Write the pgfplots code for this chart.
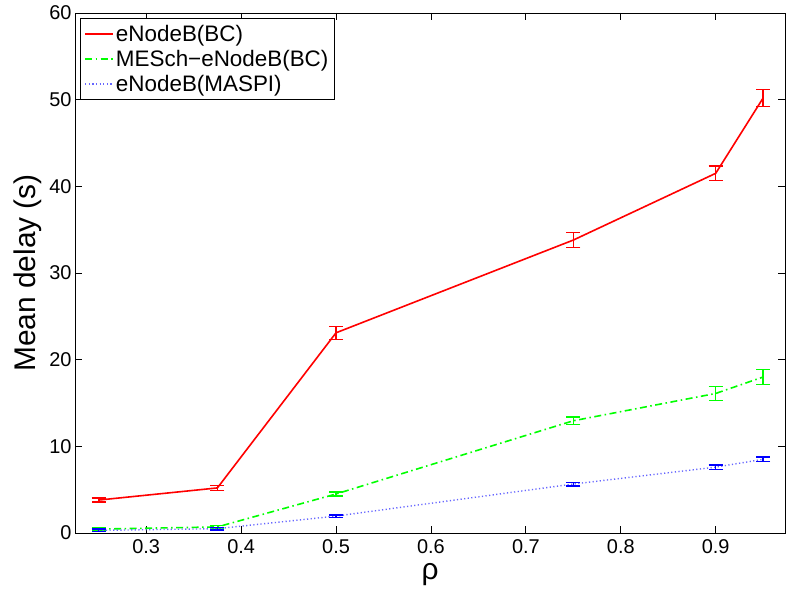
\documentclass[border=0pt]{standalone}
\usepackage{fontspec}
\setmainfont{Liberation Sans}
\usepackage{pgfplots}
\pgfplotsset{compat=1.18}

\definecolor{mred}{rgb}{1,0,0}
\definecolor{mgreen}{rgb}{0,1,0}
\definecolor{mblue}{rgb}{0,0,1}

\begin{document}
\begin{tikzpicture}
\begin{axis}[
    scale only axis,
    width=710bp, height=520bp,
    xmin=0.225, xmax=0.973,
    ymin=0, ymax=60,
    xtick={0.3,0.4,0.5,0.6,0.7,0.8,0.9},
    ytick={0,10,20,30,40,50,60},
    xticklabels={0.3,0.4,0.5,0.6,0.7,0.8,0.9},
    tick align=inside,
    major tick length=7bp,
    tick style={black, line width=0.8bp},
    axis line style={line width=0.8bp},
    /pgf/number format/assume math mode=true,
    ticklabel style={font=\fontsize{20}{24}\selectfont},
    xticklabel style={yshift=-3bp},
    xlabel={ρ},
    ylabel={Mean delay (s)},
    xlabel style={at={(axis description cs:0.5,-0.058)}, anchor=north, inner sep=0pt,
                  font=\fontsize{30}{34}\selectfont},
    ylabel style={at={(axis description cs:-0.0563,0.5)}, anchor=base, inner sep=0pt,
                  font=\fontsize{30}{34}\selectfont},
    legend cell align=left,
    legend style={at={(axis description cs:0.007,0.99)}, anchor=north west,
                  font=\fontsize{22.5}{26}\selectfont, draw=black, line width=0.8bp,
                  inner xsep=4bp, inner ysep=4.6bp, row sep=3.4bp,
                  nodes={inner sep=2bp}},
    legend image code/.code={\draw[#1] (0bp,0.3bp) -- (28bp,0.3bp);},
    error bars/y dir=both,
    error bars/y explicit,
    error bars/error mark=|,
]
\addplot[color=mred, line width=1.6bp, mark=none,
         error bars/error bar style={mred, line width=1.5bp, solid},
         error bars/error mark options={mred, mark size=7bp, line width=1.5bp, solid}]
  coordinates {
    (0.25,3.8)   +- (0,0.25)
    (0.375,5.2)  +- (0,0.3)
    (0.5,23.1)   +- (0,0.75)
    (0.75,33.8)  +- (0,0.85)
    (0.9,41.5)   +- (0,0.85)
    (0.95,50.2)  +- (0,1.0)
  };
\addlegendentry{eNodeB(BC)}

\addplot[color=mgreen, line width=1.6bp, mark=none, dash pattern=on 7bp off 3.5bp on 1.5bp off 3.5bp,
         error bars/error bar style={mgreen, line width=1.5bp, solid},
         error bars/error mark options={mgreen, mark size=7bp, line width=1.5bp, solid}]
  coordinates {
    (0.25,0.45)  +- (0,0.15)
    (0.375,0.7)  +- (0,0.15)
    (0.5,4.5)    +- (0,0.25)
    (0.75,12.95) +- (0,0.45)
    (0.9,16.1)   +- (0,0.8)
    (0.95,18.0)  +- (0,0.85)
  };
\addlegendentry{MESch\textminus eNodeB(BC)}

\addplot[color=mblue!60, line width=1.4bp, mark=none, dash pattern=on 1.2bp off 2.4bp,
         error bars/error bar style={mblue, line width=1.5bp, solid},
         error bars/error mark options={mblue, mark size=7bp, line width=1.5bp, solid}]
  coordinates {
    (0.25,0.3)   +- (0,0.15)
    (0.375,0.5)  +- (0,0.15)
    (0.5,1.95)   +- (0,0.15)
    (0.75,5.65)  +- (0,0.2)
    (0.9,7.6)    +- (0,0.25)
    (0.95,8.5)   +- (0,0.25)
  };
\addlegendentry{eNodeB(MASPI)}
\end{axis}
\pgfresetboundingbox
\path[use as bounding box] ([shift={(-75bp,-59bp)}]current axis.south west)
  rectangle ([shift={(1bp,13bp)}]current axis.north east);
\end{tikzpicture}
\end{document}
